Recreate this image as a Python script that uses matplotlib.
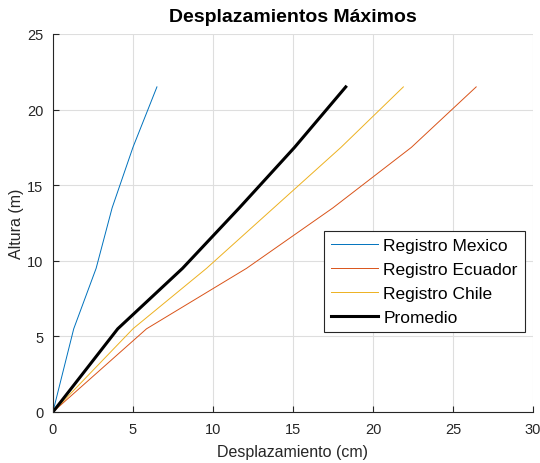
import matplotlib.pyplot as plt

plt.rcParams['font.family'] = ['Liberation Sans', 'DejaVu Sans']

altura = [0, 5.5, 9.5, 13.5, 17.5, 21.5]
desp_mexico = [0, 1.3, 2.7, 3.7, 5.0, 6.5]
desp_ecuador = [0, 5.85, 12.1, 17.5, 22.4, 26.45]
desp_chile = [0, 5.0, 9.6, 13.8, 18.0, 21.9]
desp_promedio = [0, 4.05, 8.1, 11.65, 15.1, 18.3]

fig = plt.figure(figsize=(5.4, 4.64), dpi=100)
ax = fig.add_axes([0.098, 0.110, 0.889, 0.8146])

ax.plot(desp_mexico, altura, color="#0072BD", lw=0.7, label="Registro Mexico")
ax.plot(desp_ecuador, altura, color="#D95319", lw=0.7, label="Registro Ecuador")
ax.plot(desp_chile, altura, color="#EDB120", lw=0.7, label="Registro Chile")
ax.plot(desp_promedio, altura, color="black", lw=2.2, label="Promedio")

ax.set_xlim(0, 30)
ax.set_ylim(0, 25)
ax.set_xticks(range(0, 31, 5))
ax.set_yticks(range(0, 26, 5))
ax.grid(True, color="#dedede", lw=0.8)
ax.set_axisbelow(True)
for s in ("top", "right"):
    ax.spines[s].set_visible(False)
for s in ("left", "bottom"):
    ax.spines[s].set_color("#262626")
ax.tick_params(direction="in", length=4, colors="#262626", labelsize=10.5, pad=7)

ax.set_xlabel("Desplazamiento (cm)", fontsize=11.5, color="#262626", labelpad=6)
ax.set_ylabel("Altura (m)", fontsize=11.5, color="#262626", labelpad=2)
ax.set_title("Desplazamientos Máximos", fontsize=14, fontweight="bold", pad=9)

leg = ax.legend(loc="lower right", bbox_to_anchor=(0.983, 0.212), borderaxespad=0,
                fontsize=12.5, fancybox=False, framealpha=1, edgecolor="#262626",
                handlelength=2.7, handletextpad=0.3, labelspacing=0.5,
                borderpad=0.4)
leg.get_frame().set_linewidth(0.8)

fig.savefig("out.png", dpi=100)
